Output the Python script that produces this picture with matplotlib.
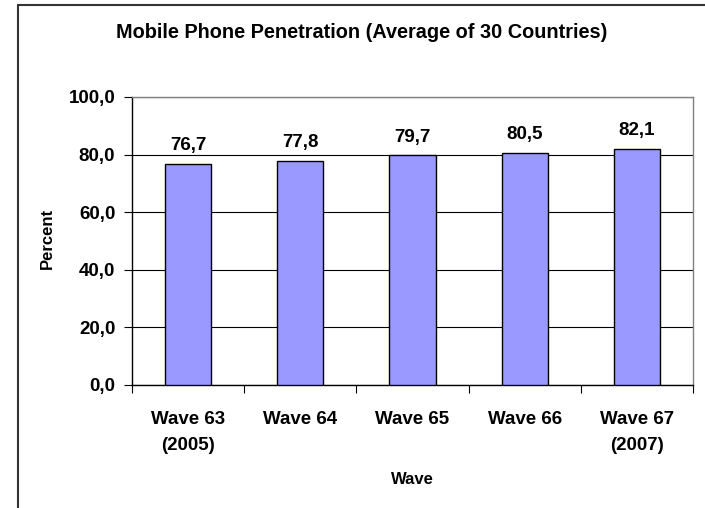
import matplotlib
matplotlib.use("Agg")
import matplotlib.pyplot as plt
from matplotlib.patches import Rectangle

categories = ["Wave 63\n(2005)", "Wave 64", "Wave 65", "Wave 66", "Wave 67\n(2007)"]
values = [76.7, 77.8, 79.7, 80.5, 82.1]
yticks = [0, 20, 40, 60, 80, 100]

plt.rcParams['font.family'] = ['Liberation Sans', 'DejaVu Sans']
plt.rcParams['font.weight'] = 'bold'

W, H = 705, 508
fig = plt.figure(figsize=(W / 100, H / 100), dpi=100)
fig.patch.set_facecolor('white')

# outer chart border (clipped by figure on right/bottom)
fig.add_artist(Rectangle((18 / W, -0.05), 1.1, (H - 5) / H + 0.05, transform=fig.transFigure,
                         fill=False, edgecolor='#333333', linewidth=1.5))

left, right, top, bottom = 132, 693, 97, 385
ax = fig.add_axes([left / W, 1 - bottom / H, (right - left) / W, (bottom - top) / H])

x = range(len(values))
ax.bar(x, values, width=0.41, color='#9999FF', edgecolor='black', linewidth=1.0, zorder=3)
for xi, v in zip(x, values):
    ax.annotate(f"{v:.1f}".replace('.', ','), (xi, v), xytext=(0, 10), textcoords='offset points',
                ha='center', va='baseline', fontsize=13.5, fontweight='bold')

ax.set_xlim(-0.5, len(values) - 0.5)
ax.set_ylim(0, 100)
ax.set_yticks(yticks)
ax.set_yticklabels([f"{t:.1f}".replace('.', ',') for t in yticks], fontsize=13.5, fontweight='bold')
ax.yaxis.grid(True, color='black', linewidth=0.8, zorder=0)
ax.set_axisbelow(True)

ax.set_xticks(list(x))
ax.set_xticklabels(categories, fontsize=13.5, fontweight='bold', linespacing=1.65)
ax.tick_params(axis='x', length=0, pad=19)
ax.tick_params(axis='y', length=6, width=0.8, direction='out', pad=6)
# category boundary ticks
ax.set_xticks([i - 0.5 for i in range(len(values) + 1)], minor=True)
ax.tick_params(axis='x', which='minor', length=6, width=0.8, direction='out')

for s in ['left', 'bottom']:
    ax.spines[s].set_color('black')
    ax.spines[s].set_linewidth(1.0)
for s in ['top', 'right']:
    ax.spines[s].set_color('#808080')
    ax.spines[s].set_linewidth(1.0)

fig.text(47 / W, 1 - 238 / H, "Percent", rotation=90, ha='center', va='center',
         fontsize=12, fontweight='bold')
fig.text(412 / W, 1 - 479 / H, "Wave", ha='center', va='center',
         fontsize=12, fontweight='bold')
fig.text(362 / W, 1 - 33 / H, "Mobile Phone Penetration (Average of 30 Countries)",
         ha='center', va='center', fontsize=14.3, fontweight='bold')

fig.savefig("out.png", dpi=100)
